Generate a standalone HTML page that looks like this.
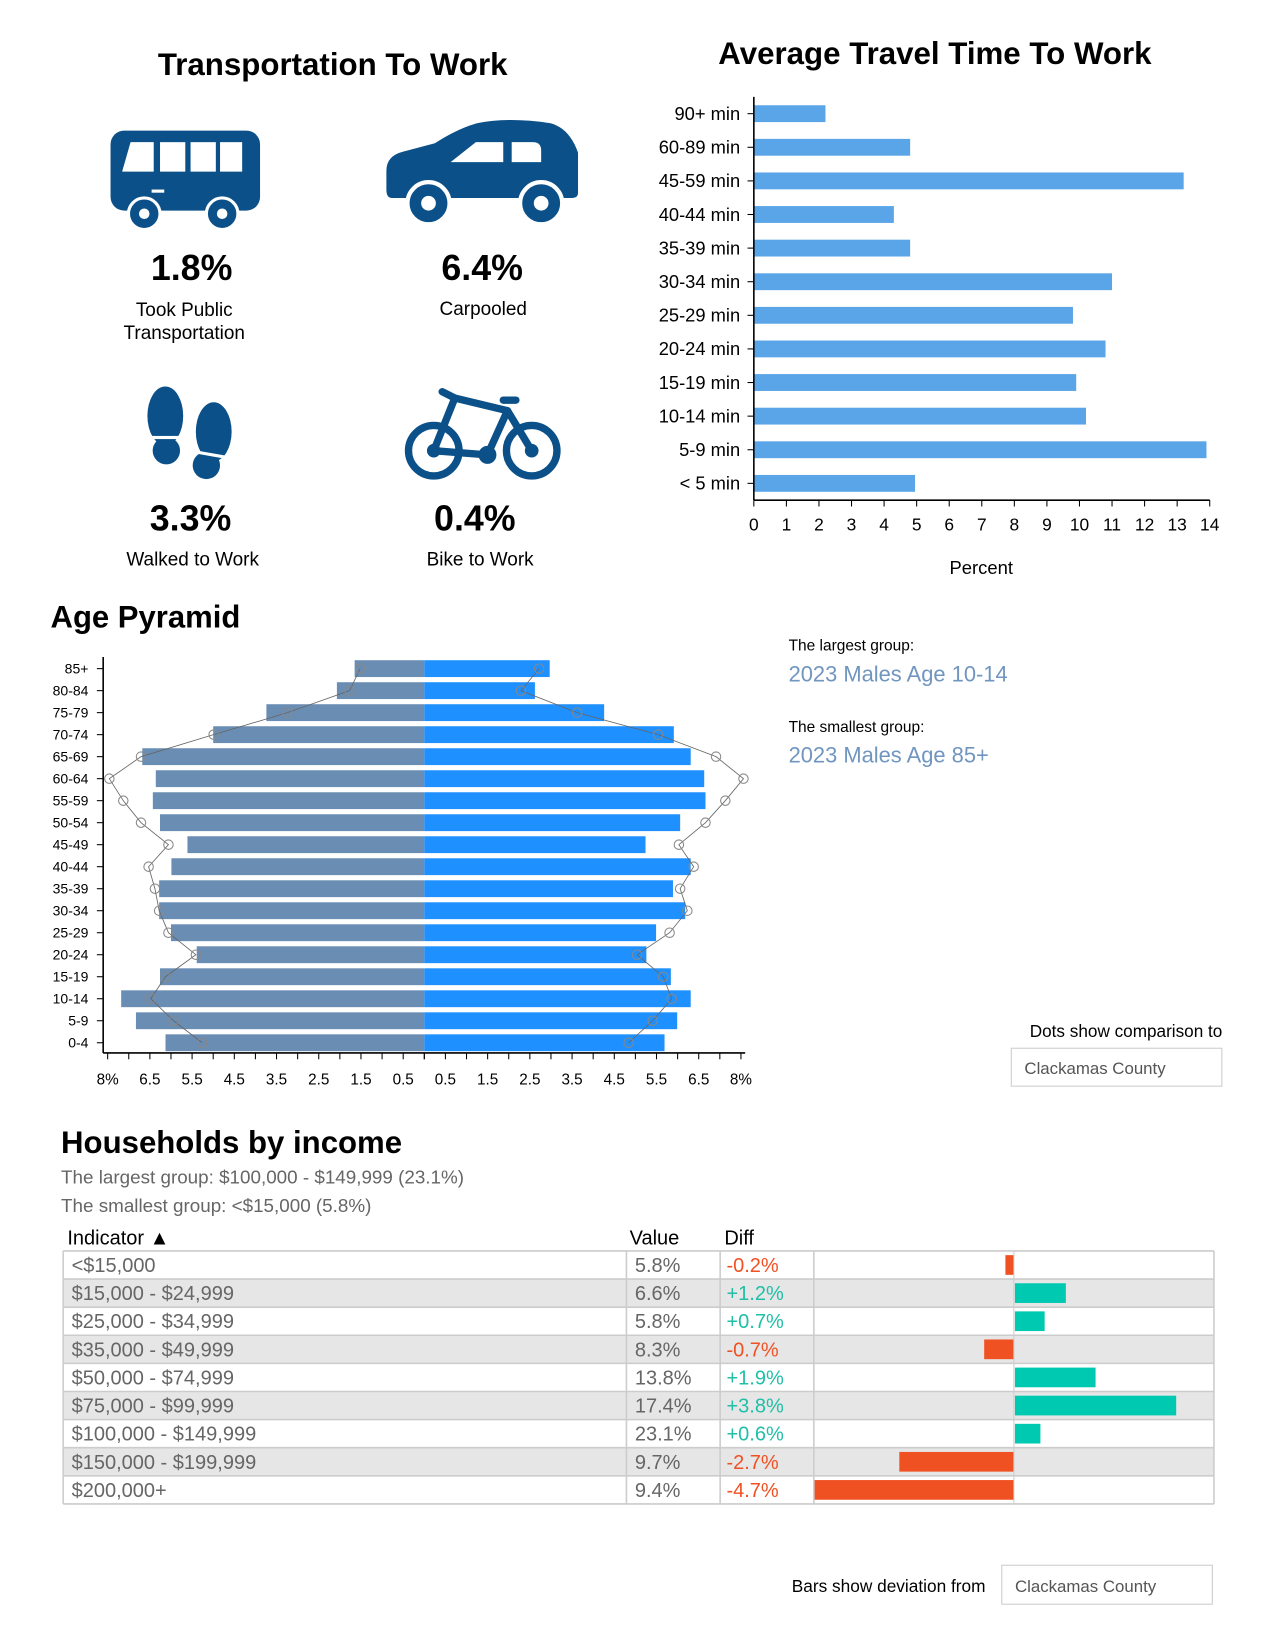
<!DOCTYPE html>
<html><head><meta charset="utf-8">
<style>
html,body{margin:0;padding:0;background:#fff;}
svg{display:block;font-family:"Liberation Sans",Arial,sans-serif;}
</style></head>
<body>
<svg id="root" width="1275" height="1650" viewBox="0 0 1211 1567" preserveAspectRatio="none" xmlns="http://www.w3.org/2000/svg">
<rect width="1216" height="1574" fill="#fff"/>
<!-- Transportation -->
<text x="316" y="71" text-anchor="middle" font-size="29.7" font-weight="bold">Transportation To Work</text>
<g fill="#0b5088">
  <rect x="105" y="124" width="142" height="76" rx="13"/>
  <path d="M124 135 h22 v28 h-30 z" fill="#fff"/>
  <rect x="152" y="135" width="24" height="28" fill="#fff"/>
  <rect x="181" y="135" width="24" height="28" fill="#fff"/>
  <rect x="209" y="135" width="21" height="28" fill="#fff"/>
  <rect x="144" y="180" width="12" height="3" fill="#fff"/>
  <circle cx="137" cy="203" r="15" stroke="#fff" stroke-width="3"/><circle cx="137" cy="203" r="5" fill="#fff"/>
  <circle cx="211" cy="203" r="15" stroke="#fff" stroke-width="3"/><circle cx="211" cy="203" r="5" fill="#fff"/>
</g>
<g fill="#0b5088">
  <path d="M372 188 q-5 0 -5 -8 v-18 q0 -14 16 -18 l30 -8 q22 -14 40 -19 q30 -6 70 0 q18 5 26 28 v38 q0 5 -6 5 z"/>
  <path d="M428 154 l24 -19 h26 v19 z" fill="#fff"/>
  <path d="M486 135 h20 q8 0 8 8 v11 h-28 z" fill="#fff"/>
  <circle cx="407" cy="193" r="20" stroke="#fff" stroke-width="4"/><circle cx="407" cy="193" r="7" fill="#fff"/>
  <circle cx="514" cy="193" r="20" stroke="#fff" stroke-width="4"/><circle cx="514" cy="193" r="7" fill="#fff"/>
</g>
<text x="182" y="266" text-anchor="middle" font-size="34" font-weight="bold">1.8%</text>
<text x="175" y="300" text-anchor="middle" font-size="18">Took Public</text>
<text x="175" y="322" text-anchor="middle" font-size="18">Transportation</text>
<text x="458" y="266" text-anchor="middle" font-size="34" font-weight="bold">6.4%</text>
<text x="459" y="299" text-anchor="middle" font-size="18">Carpooled</text>
<g fill="#0b5088">
  <ellipse cx="157" cy="395" rx="17" ry="28"/>
  <ellipse cx="158" cy="428" rx="13" ry="13"/>
  <rect x="140" y="414" width="36" height="3" fill="#fff"/>
  <ellipse cx="203" cy="410" rx="17" ry="28"/>
  <ellipse cx="196" cy="442" rx="13" ry="13"/>
  <rect x="180" y="430" width="38" height="3" fill="#fff" transform="rotate(10 199 431)"/>
</g>
<g fill="none" stroke="#0b5088" stroke-width="7" stroke-linecap="round" stroke-linejoin="round">
  <circle cx="412" cy="428" r="24"/><circle cx="505" cy="428" r="24"/>
  <path d="M412 428 L432 378 L482 390 L463 432 Z"/>
  <path d="M432 378 L420 372 M482 390 L505 428 M478 380 h12"/>
  <circle cx="463" cy="432" r="5" fill="#0b5088"/>
  <circle cx="412" cy="428" r="3" fill="#0b5088"/><circle cx="505" cy="428" r="3" fill="#0b5088"/>
</g>
<text x="181" y="504" text-anchor="middle" font-size="34" font-weight="bold">3.3%</text>
<text x="183" y="537" text-anchor="middle" font-size="18">Walked to Work</text>
<text x="451" y="504" text-anchor="middle" font-size="34" font-weight="bold">0.4%</text>
<text x="456" y="537" text-anchor="middle" font-size="18">Bike to Work</text>

<!-- Travel -->
<text x="888" y="61" text-anchor="middle" font-size="29.7" font-weight="bold">Average Travel Time To Work</text>
<g id="travel"></g>

<!-- Pyramid -->
<text x="48" y="596" font-size="29.5" font-weight="bold">Age Pyramid</text>
<g id="pyr"></g>
<text x="749" y="618" font-size="14.7">The largest group:</text>
<text x="749" y="647" font-size="20.8" fill="#7096c0">2023 Males Age 10-14</text>
<text x="749" y="695" font-size="14.7">The smallest group:</text>
<text x="749" y="724" font-size="20.8" fill="#7096c0">2023 Males Age 85+</text>
<text x="1161" y="985" text-anchor="end" font-size="16.3">Dots show comparison to</text>
<rect x="960.5" y="995.5" width="200" height="36" fill="#fff" stroke="#ccc"/>
<text x="973" y="1020" font-size="16" fill="#555">Clackamas County</text>

<!-- Income -->
<text x="58" y="1095" font-size="29.6" font-weight="bold">Households by income</text>
<text x="58" y="1124" font-size="17.9" fill="#666">The largest group: $100,000 - $149,999 (23.1%)</text>
<text x="58" y="1151" font-size="17.9" fill="#666">The smallest group: &lt;$15,000 (5.8%)</text>
<text x="64" y="1182" font-size="19">Indicator ▲</text>
<text x="598" y="1182" font-size="19">Value</text>
<text x="688" y="1182" font-size="19">Diff</text>
<g id="inc"></g>
<text x="936" y="1512" text-anchor="end" font-size="16.4">Bars show deviation from</text>
<rect x="951.5" y="1486.5" width="200" height="37" fill="#fff" stroke="#ccc"/>
<text x="964" y="1512" font-size="16" fill="#555">Clackamas County</text>
</svg>
<script>
var NS="http://www.w3.org/2000/svg";
function mk(p,t,a,txt){var e=document.createElementNS(NS,t);for(var k in a)e.setAttribute(k,a[k]);if(txt!==undefined)e.textContent=txt;p.appendChild(e);return e;}

var travelCats=["90+ min","60-89 min","45-59 min","40-44 min","35-39 min","30-34 min","25-29 min","20-24 min","15-19 min","10-14 min","5-9 min","< 5 min"];
var travelVals=[2.2,4.8,13.2,4.3,4.8,11.0,9.8,10.8,9.9,10.2,13.9,4.95];
var travelTicks=[0,1,2,3,4,5,6,7,8,9,10,11,12,13,14];

var ageCats=["85+","80-84","75-79","70-74","65-69","60-64","55-59","50-54","45-49","40-44","35-39","30-34","25-29","20-24","15-19","10-14","5-9","0-4"];
var maleVals=[1.65,2.07,3.74,5.0,6.68,6.36,6.43,6.26,5.61,5.99,6.28,6.28,6.0,5.39,6.26,7.18,6.83,6.13];
var femaleVals=[2.97,2.62,4.26,5.91,6.31,6.63,6.66,6.06,5.24,6.31,5.89,6.18,5.49,5.26,5.84,6.31,5.99,5.69];
var maleCmp=[1.52,1.77,3.24,4.99,6.71,7.46,7.13,6.71,6.06,6.53,6.38,6.28,6.06,5.41,6.13,6.48,5.94,5.26];
var femaleCmp=[2.72,2.29,3.62,5.54,6.91,7.56,7.13,6.66,6.03,6.38,6.06,6.23,5.81,5.04,5.66,5.86,5.41,4.84];
var pyrTickVals=[7.5,6.5,5.5,4.5,3.5,2.5,1.5,0.5];
var pyrTickLabels=["8%","6.5","5.5","4.5","3.5","2.5","1.5","0.5"];

var incCats=["<$15,000","$15,000 - $24,999","$25,000 - $34,999","$35,000 - $49,999","$50,000 - $74,999","$75,000 - $99,999","$100,000 - $149,999","$150,000 - $199,999","$200,000+"];
var incVals=[5.8,6.6,5.8,8.3,13.8,17.4,23.1,9.7,9.4];
var incDiffs=[-0.2,1.2,0.7,-0.7,1.9,3.8,0.6,-2.7,-4.7];

// Travel chart
(function(){
  var g=document.getElementById("travel");
  var x0=716,x1=1149,top=92,bot=475;
  function x(v){return x0+(x1-x0)*v/14;}
  var step=(bot-top)/travelCats.length;
  function y(i){return top+step*(i+0.5);}
  travelCats.forEach(function(c,i){
    var r=mk(g,"rect",{x:x(0),y:y(i)-8,width:x(travelVals[i])-x(0),height:16,fill:"#5aa5e8"});
    
    
    mk(g,"line",{x1:x0-6,x2:x0,y1:y(i),y2:y(i),stroke:"#000"});
    var t=mk(g,"text",{x:x0-13,y:y(i)+6,"text-anchor":"end","font-size":"17.4"},c);
    
    
  });
  mk(g,"line",{x1:x0,x2:x0,y1:top,y2:bot,stroke:"#000","stroke-width":1.5});
  mk(g,"line",{x1:x0,x2:x1,y1:bot,y2:bot,stroke:"#000","stroke-width":1.5});
  travelTicks.forEach(function(v){
    mk(g,"line",{x1:x(v),x2:x(v),y1:bot,y2:bot+6,stroke:"#000"});
    var t=mk(g,"text",{x:x(v),y:bot+29,"text-anchor":"middle","font-size":"16.5"},String(v));
    
    
  });
  var t=mk(g,"text",{x:932,y:545,"text-anchor":"middle","font-size":"17.5"},"Percent");
  
  
})();

// Pyramid
(function(){
  var g=document.getElementById("pyr");
  var cx=403,k=40.1,top=624,bot=1000,axX=98;
  function xl(v){return cx-v*k;}
  function xr(v){return cx+v*k;}
  var step=20.9;
  function y(i){return 635+step*i;}
  ageCats.forEach(function(c,i){
    var m=mk(g,"rect",{x:xl(maleVals[i]),y:y(i)-8,width:maleVals[i]*k,height:16,fill:"#6a8db3"});
    
    
    var f=mk(g,"rect",{x:cx,y:y(i)-8,width:femaleVals[i]*k,height:16,fill:"#1e90ff"});
    
    
    mk(g,"line",{x1:axX-6,x2:axX,y1:y(i),y2:y(i),stroke:"#000"});
    var t=mk(g,"text",{x:84,y:y(i)+4.5,"text-anchor":"end","font-size":"13.3"},c);
    
    
  });
  var pl=maleCmp.map(function(v,i){return xl(v)+","+y(i);}).join(" ");
  var pr=femaleCmp.map(function(v,i){return xr(v)+","+y(i);}).join(" ");
  var l1=mk(g,"polyline",{points:pl,fill:"none",stroke:"#666","stroke-width":0.8});
  
  
  var l2=mk(g,"polyline",{points:pr,fill:"none",stroke:"#666","stroke-width":0.8});
  
  
  maleCmp.forEach(function(v,i){
    var d=mk(g,"circle",{cx:xl(v),cy:y(i),r:4.5,fill:"none",stroke:"#888"});
    
    
  });
  femaleCmp.forEach(function(v,i){
    var d=mk(g,"circle",{cx:xr(v),cy:y(i),r:4.5,fill:"none",stroke:"#888"});
    
    
  });
  mk(g,"line",{x1:axX,x2:axX,y1:top,y2:bot,stroke:"#000","stroke-width":1.5});
  mk(g,"line",{x1:axX,x2:xr(7.6),y1:bot,y2:bot,stroke:"#000","stroke-width":1.5});
  for(var v=0;v<=7.5;v+=0.5){
    mk(g,"line",{x1:xl(v),x2:xl(v),y1:bot,y2:bot+6,stroke:"#000"});
    mk(g,"line",{x1:xr(v),x2:xr(v),y1:bot,y2:bot+6,stroke:"#000"});
  }
  pyrTickVals.forEach(function(v,i){
    var a=mk(g,"text",{x:xl(v),y:1030,"text-anchor":"middle","font-size":"14.5"},pyrTickLabels[i]);
    
    
    var b=mk(g,"text",{x:xr(v),y:1030,"text-anchor":"middle","font-size":"14.5"},pyrTickLabels[i]);
    
    
  });
})();

// Income table
(function(){
  var g=document.getElementById("inc");
  var L=60,C1=595,C2=684,C3=773,R=1153,top=1188,h=26.7,zero=963,k=40.3;
  incCats.forEach(function(c,i){
    var yy=top+h*i;
    var row=mk(g,"rect",{x:L,y:yy,width:R-L,height:h,fill:i%2?"#e6e6e6":"#fff"});
    
    
    var t1=mk(g,"text",{x:L+8,y:yy+20,"font-size":"19",fill:"#666"},c);
    
    
    var t2=mk(g,"text",{x:C1+8,y:yy+20,"font-size":"19",fill:"#666"},incVals[i].toFixed(1)+"%");
    
    
    var d=incDiffs[i];
    var col=d<0?"#f05123":"#00c9b1";
    var t3=mk(g,"text",{x:C2+6,y:yy+20,"font-size":"19",fill:d<0?"#f05123":"#1fbfa8"},(d<0?"":"+")+d.toFixed(1)+"%");
    
    
    var bx=d<0?zero-(-d)*k:zero+1;
    var b=mk(g,"rect",{x:bx,y:yy+4,width:Math.abs(d)*k,height:h-8,fill:col});
    
    
  });
  var H=h*incCats.length;
  for(var i=0;i<=incCats.length;i++) mk(g,"line",{x1:L,x2:R,y1:top+h*i,y2:top+h*i,stroke:"#ccc","stroke-width":1.5});
  [L,C1,C2,C3,R].forEach(function(x){mk(g,"line",{x1:x,x2:x,y1:top,y2:top+H,stroke:"#ccc","stroke-width":1.5});});
  mk(g,"line",{x1:zero,x2:zero,y1:top,y2:top+H,stroke:"#ccc"});
})();
</script>
</body></html>
